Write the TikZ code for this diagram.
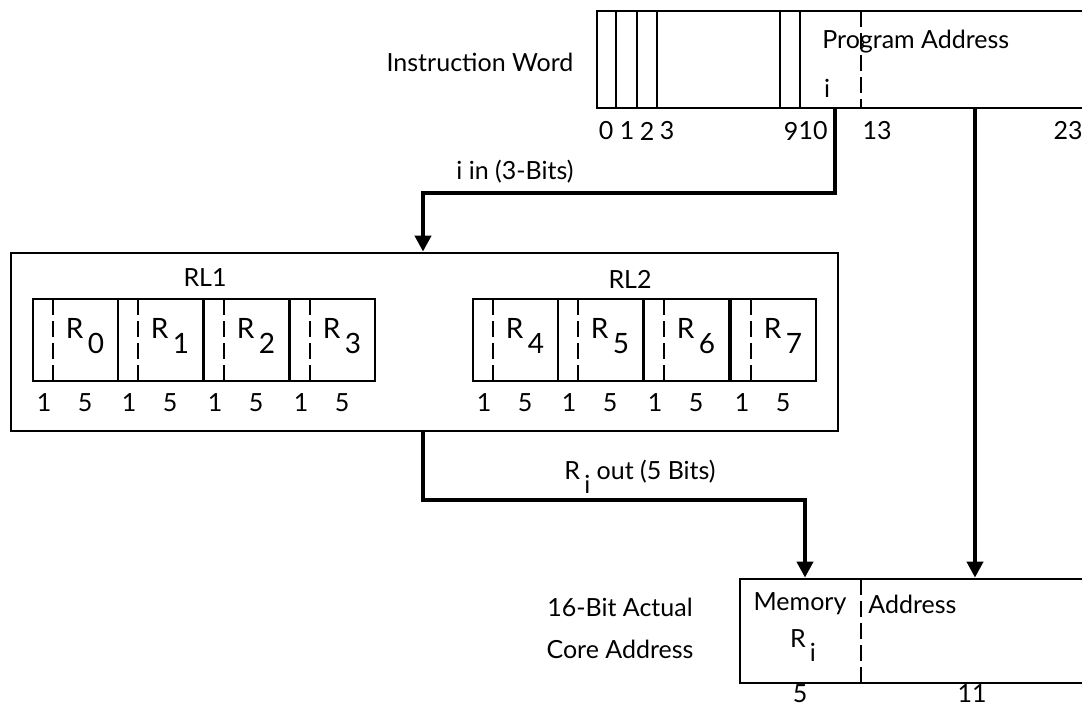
\documentclass[tikz,border=0pt]{standalone}
\usepackage{fontspec}
\setmainfont{Lato}
\usetikzlibrary{arrows.meta,fit}
\tikzset{
  reg/.style={draw, line width=1.4pt, inner sep=0pt},
  wire/.style={line width=2pt, -{Triangle[length=8pt,width=8pt]}},
  split/.style={line width=1.4pt, dash pattern=on 8pt off 3pt},
  txt/.style={font=\fontsize{12.5}{15}\selectfont, inner sep=0pt},
  rtxt/.style={font=\fontsize{14}{16}\selectfont, inner sep=0pt},
}
\newcommand{\Rsub}[1]{R\,\raisebox{-1.1ex}{#1}}
\begin{document}
\begin{tikzpicture}[x=0.5pt, y=-0.5pt]
  \useasboundingbox (0,0) rectangle (1082,706);
  \clip (0,0) rectangle (1082,706);
  \node[reg, fit={(597,11) (1110,108)}] (iw) {};
  \foreach \x in {616,637,657,780,800} { \draw[line width=1.4pt] (\x,11) -- (\x,108); }
  \draw[split] (861,11) -- (861,108);
  \node[txt, anchor=west] (pa) at (822,42) {Program Address};
  \node[txt] (ibit) at (827,88) {i};
  \node[txt] (iwl) at (480,62) {Instruction Word};
  \foreach \b/\x in {0/606,1/627,2/647,3/667,9/791,10/813,13/877,23/1068} { \node[txt] at (\x,131) {\b}; }
  \node[reg, fit={(11,253) (838,431)}] (rl) {};
  \node[txt] (rl1) at (205,278) {RL1};
  \node[txt] (rl2) at (630,279) {RL2};
  \foreach \r/\x in {0/33,1/118,2/204,3/290,4/473,5/558,6/644,7/731} {
    \node[reg, fit={(\x,299) (\x+85,381)}] (r\r) {};
    \draw[split] (\x+20,299) -- (\x+20,381);
    \node[rtxt] at (\x+52,336) {\Rsub{\r}};
    \node[txt] at (\x+11,403) {1};
    \node[txt] at (\x+52,403) {5};
  }
  \node[reg, fit={(740,579) (1110,683)}] (mem) {};
  \draw[split] (861,579) -- (861,683);
  \node[txt] (meml) at (800,604) {Memory};
  \node[txt] (memr) at (803,646) {\Rsub{i}};
  \node[txt, anchor=west] (adr) at (868,604) {Address};
  \node[txt] at (800,694) {5};
  \node[txt] at (972,694) {11};
  \node[txt, align=center] (core) at (620,628) {16-Bit Actual\\[6pt]Core Address};
  \coordinate (itap) at (835,0);
  \coordinate (atap) at (975,0);
  \coordinate (ibend) at (423,193);
  \coordinate (obend) at (805,500);
  \draw[wire] (iw.south -| itap) |- (ibend) -- (rl.north -| ibend);
  \draw[wire] (rl.south -| ibend) |- (obend) -- (mem.north -| obend);
  \draw[wire] (iw.south -| atap) -- (mem.north -| atap);
  \node[txt] (iin) at (515,172) {i in (3-Bits)};
  \node[txt] (rout) at (640,477) {\Rsub{i} out (5 Bits)};
\end{tikzpicture}
\end{document}
